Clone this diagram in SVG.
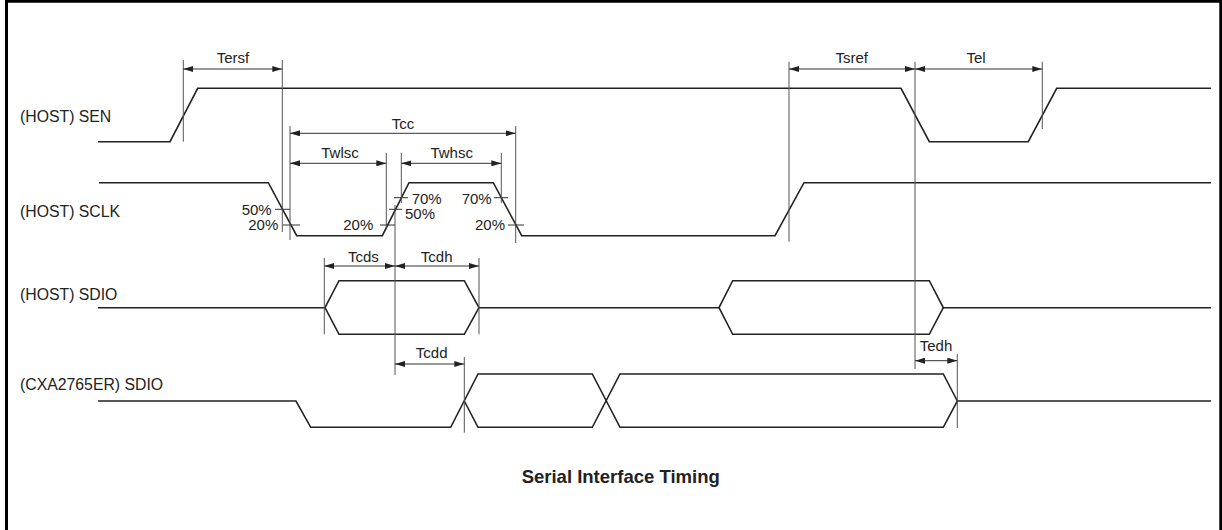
<svg xmlns="http://www.w3.org/2000/svg" width="1222" height="530" viewBox="0 0 1222 530">
<style>
text{font-family:"Liberation Sans",Arial,sans-serif;font-size:15px;fill:#222}
.lbl{font-size:15.8px}
.m{text-anchor:middle}
.e{text-anchor:end}
.sig{fill:none;stroke:#222;stroke-width:1.6;stroke-linejoin:miter}
.ext{stroke:#555;stroke-width:1;fill:none}
.dim{stroke:#333;stroke-width:1;fill:none;marker-start:url(#ah);marker-end:url(#ah)}
.tick{stroke:#333;stroke-width:1}
.title{font-weight:bold;font-size:18.5px}
</style>
<defs>
<marker id="ah" viewBox="0 0 10 6" refX="10" refY="3" markerWidth="10" markerHeight="6" markerUnits="userSpaceOnUse" orient="auto-start-reverse">
<path d="M0,0 L10,3 L0,6 Z" fill="#222"/>
</marker>
</defs>
<rect width="1222" height="530" fill="#fff"/>
<path d="M6.5,530 V1.2 H1220.8 V530" fill="none" stroke="#000" stroke-width="3"/>

<g id="labels">
<text class="lbl" x="20" y="121.5">(HOST) SEN</text>
<text class="lbl" x="20" y="216.5">(HOST) SCLK</text>
<text class="lbl" x="20" y="300">(HOST) SDIO</text>
<text class="lbl" x="20" y="390">(CXA2765ER) SDIO</text>
</g>

<g id="sen">
<path class="sig" d="M98,141.7 H170 L197.7,88.3 H901 L929.3,141.7 H1028.3 L1056.7,88.3 H1211"/>
</g>
<g id="sclk">
<path class="sig" d="M99,182.7 H268.3 L296.7,235.7 H382.3 L409,182.7 H493.3 L521.7,235.7 H775 L804,182.7 H1211"/>
</g>
<g id="host-sdio">
<path class="sig" d="M98,307.7 H325 L339,280.7 H464.3 L479,307.7 H719 L732.7,280.7 H929.3 L943.3,307.7 H1211"/>
<path class="sig" d="M325,307.7 L339,334.3 H464.3 L479,307.7"/>
<path class="sig" d="M719,307.7 L732.7,334.3 H929.3 L943.3,307.7"/>
</g>
<g id="cxa-sdio">
<path class="sig" d="M98,401 H296 L310.7,427.3 H450.7 L478,374 H592.3 L620,427.3 H943.3 L957.3,401 H1211"/>
<path class="sig" d="M464.3,401 L478,427.3 H592.3 L620,374 H943.3 L957.3,401"/>
</g>

<g id="connectors">
<path class="ext" d="M183.3,60 V141.7 M282.3,60 V232 M789,61.7 V241.7 M915,61.7 V369 M1042.3,61.7 V129 M290,126 V240 M515.7,126 V243 M386.3,153 V228 M401.3,153 V203 M501.3,153 V203 M395,205 V375 M324.3,258 V334.3 M479,258 V334.3 M464.3,357 V432.7 M957.3,354 V428"/>
<path class="dim" d="M183.3,69 H282.3"/>
<path class="dim" d="M789,69 H915"/>
<path class="dim" d="M915,69 H1042.3"/>
<path class="dim" d="M290,133.3 H515.7"/>
<path class="dim" d="M290,163.3 H386.3"/>
<path class="dim" d="M401.3,163.3 H501.3"/>
<path class="dim" d="M324.3,266 H395"/>
<path class="dim" d="M395,266 H479"/>
<path class="dim" d="M395,364 H464.3"/>
<path class="dim" d="M915,360.7 H957.3"/>
<path class="tick" d="M275,209.3 H290 M283,225 H300 M380,225 H395 M389,209.3 H402 M394,197.7 H408 M494,197.7 H508 M508,225 H524"/>
</g>

<g id="dim-labels">
<text class="m" x="233" y="62.5">Tersf</text>
<text class="m" x="851.7" y="62.5">Tsref</text>
<text class="m" x="976" y="62.5">Tel</text>
<text class="m" x="403" y="129">Tcc</text>
<text class="m" x="340" y="158.3">Twlsc</text>
<text class="m" x="451.7" y="158.3">Twhsc</text>
<text class="m" x="363.3" y="261.5">Tcds</text>
<text class="m" x="436.7" y="261.5">Tcdh</text>
<text class="m" x="431.7" y="358.3">Tcdd</text>
<text class="m" x="936" y="351">Tedh</text>
<text class="e" x="271.7" y="215">50%</text>
<text class="e" x="278.3" y="230">20%</text>
<text class="e" x="373.3" y="230">20%</text>
<text x="411.7" y="204">70%</text>
<text x="405" y="219">50%</text>
<text class="e" x="491.7" y="204">70%</text>
<text class="e" x="505" y="230">20%</text>
</g>

<text class="m title" x="620.7" y="483">Serial Interface Timing</text>
</svg>
